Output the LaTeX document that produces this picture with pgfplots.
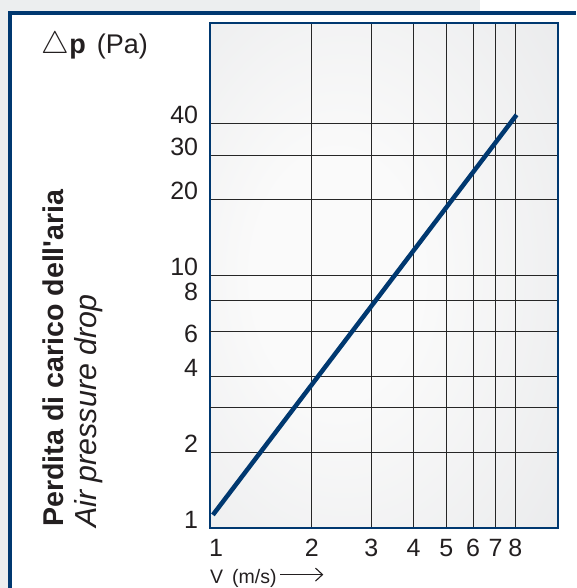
\documentclass[border=0pt]{standalone}
\usepackage{pgfplots}
\pgfplotsset{compat=1.18}
\usepackage{fontspec}
\setmainfont{Liberation Sans}
\usetikzlibrary{arrows.meta}
\definecolor{navy}{RGB}{0,56,112}
\definecolor{bgin}{RGB}{250,250,250}
\definecolor{bgout}{RGB}{228,229,231}
\definecolor{outgray}{RGB}{236,238,239}
\definecolor{txt}{RGB}{35,31,32}
% light centre, darker edges, as in the reference plot area
\pgfdeclareradialshading{plotbg}{\pgfpoint{-8bp}{0bp}}{color(0bp)=(bgin); color(12bp)=(bgin); color(50bp)=(bgout); color(80bp)=(bgout)}
\begin{document}
\begin{tikzpicture}
\path[use as bounding box] (0pt,0pt) rectangle (576pt,588pt);
\fill[white] (0pt,0pt) rectangle (576pt,588pt);
\fill[outgray] (0pt,0pt) rectangle (10pt,588pt);
\fill[outgray] (0pt,575pt) rectangle (480pt,588pt);
\draw[navy, line width=4pt] (10pt,0pt) -- (10pt,575pt) -- (576pt,575pt);
\shade[shading=plotbg] (210pt,59.7pt) rectangle (558pt,565pt);

% titles
\node[anchor=base west, inner sep=0pt, font=\fontsize{27}{30}\selectfont, text=txt]
  at (41pt,534.3pt) {\scalebox{1.25}{$\bigtriangleup$}\kern0.5pt\textbf{p}\hspace{11pt}(Pa)};
\node[rotate=90, anchor=base west, inner sep=0pt, font=\fontsize{28.6}{30}\selectfont\bfseries, text=txt]
  at (63.5pt,61pt) {Perdita di carico dell\textquotesingle aria};
\node[rotate=90, anchor=base west, inner sep=0pt, font=\fontsize{30.4}{32}\selectfont\itshape, text=txt]
  at (96.7pt,60pt) {Air pressure drop};
\node[anchor=base west, inner sep=0pt, font=\fontsize{19.5}{20}\selectfont, text=txt]
  at (210pt,5pt) {V\hspace{9pt}(m/s)};
\draw[txt, line width=1.1pt, -{Straight Barb[length=7pt,width=13pt]}] (280pt,13.4pt) -- (323.3pt,13.4pt);

\begin{axis}[
  at={(210pt,59.7pt)}, anchor=south west,
  scale only axis, width=348pt, height=505.3pt,
  xmode=log, ymode=log,
  xmin=1, xmax=10.7, ymin=1, ymax=100,
  axis line style={navy, line width=2.2pt},
  tick style={draw=none}, major tick length=0pt, minor tick length=0pt,
  grid=major,
  major grid style={black!85, line width=1.1pt},
  xtick={1,2,3,4,5,6,7,8},
  xticklabels={\kern12pt 1,2,3,4,5,6,7,8},
  ytick={1,2,4,8,10,20,30,40},
  yticklabels={1,2,4,8,10,20,30,40},
  extra y ticks={3,6},
  extra y tick labels={,6},
  extra y tick style={grid=major, yticklabel style={anchor=east, yshift=-2.4pt}},
  /pgf/number format/assume math mode=true,
  xticklabel style={anchor=base, inner sep=0pt, yshift=-27.7pt, font=\fontsize{25}{25}\selectfont, text=txt},
  yticklabel style={anchor=base east, inner sep=0pt, xshift=-11.7pt, font=\fontsize{25}{25}\selectfont, text=txt},
]
\addplot[navy, line width=4.5pt] coordinates {(1.02,1.13) (8.07,43.3)};
\end{axis}
\end{tikzpicture}
\end{document}
